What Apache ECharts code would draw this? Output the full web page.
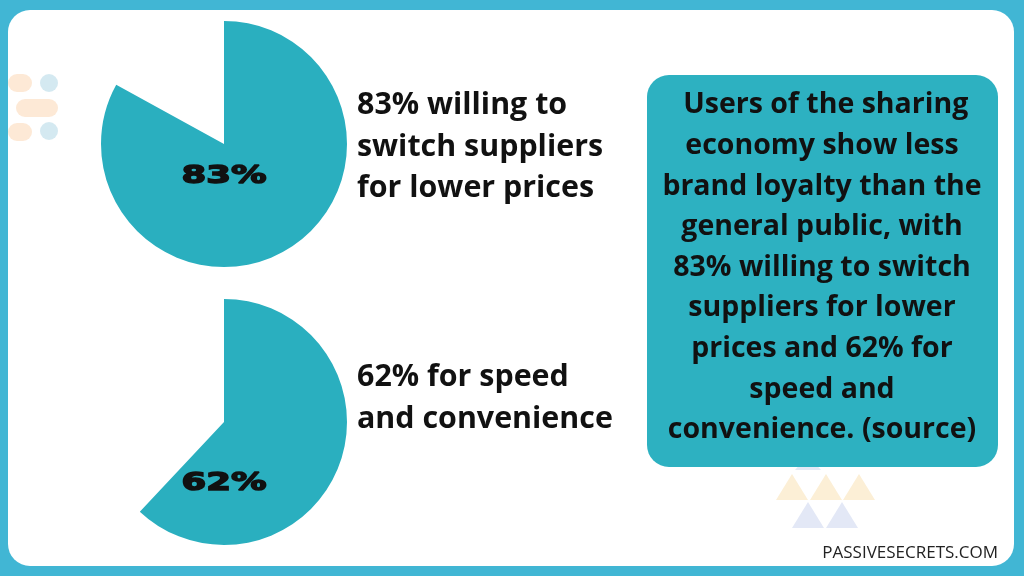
<!DOCTYPE html>
<html><head><meta charset="utf-8">
<script src="https://cdn.jsdelivr.net/npm/echarts@6/dist/echarts.min.js"></script>
<style>html,body{margin:0;padding:0;background:#41b6d4}#c{width:1024px;height:576px}</style>
</head><body><div id="c"></div>
<script>
const categories = ['Lower prices', 'Speed and convenience'];
const values = [83, 62];
const sideLabels = ['83% willing to\nswitch suppliers\nfor lower prices', '62% for speed\nand convenience'];
const boxText = ' Users of the sharing\neconomy show less\nbrand loyalty than the\ngeneral public, with\n83% willing to switch\nsuppliers for lower\nprices and 62% for\nspeed and\nconvenience. (source)';
const source = 'PASSIVESECRETS.COM';

const TEAL = '#2aafbf';
const centers = [[224, 144], [224, 422]];
const labelY = [177, 484];
const sideY = [85, 357];

const chart = echarts.init(document.getElementById('c'), null, {renderer: 'canvas'});

const series = values.map((v, i) => ({
  type: 'pie', name: categories[i], center: centers[i], radius: [0, 123],
  startAngle: 90, clockwise: true, silent: true, animation: false,
  label: {show: false}, labelLine: {show: false},
  z: 5,
  data: [
    {name: categories[i], value: v, itemStyle: {color: TEAL}},
    {name: 'rest', value: 100 - v, itemStyle: {color: 'rgba(0,0,0,0)'}}
  ]
}));

const graphics = [
  {type: 'rect', shape: {x: 8, y: 10, width: 1006, height: 556, r: 22}, style: {fill: '#ffffff'}, z: -10},
  // faint decorations
  {type: 'rect', shape: {x: 8, y: 74, width: 24, height: 18, r: 9}, style: {fill: '#fde3cc', opacity: 0.8}, z: -5},
  {type: 'circle', shape: {cx: 49, cy: 83, r: 9}, style: {fill: '#cfe7ef', opacity: 0.9}, z: -5},
  {type: 'rect', shape: {x: 16, y: 99, width: 42, height: 18, r: 9}, style: {fill: '#fde3cc', opacity: 0.8}, z: -5},
  {type: 'rect', shape: {x: 8, y: 123, width: 24, height: 18, r: 9}, style: {fill: '#fde3cc', opacity: 0.8}, z: -5},
  {type: 'circle', shape: {cx: 49, cy: 131, r: 9}, style: {fill: '#cfe7ef', opacity: 0.9}, z: -5},
  {type: 'polygon', shape: {points: [[776, 500], [792, 474], [808, 500]]}, style: {fill: '#fcefd6'}, z: -5},
  {type: 'polygon', shape: {points: [[810, 500], [826, 474], [842, 500]]}, style: {fill: '#fcefd6'}, z: -5},
  {type: 'polygon', shape: {points: [[843, 500], [859, 474], [875, 500]]}, style: {fill: '#fcefd6'}, z: -5},
  {type: 'polygon', shape: {points: [[792, 528], [808, 502], [824, 528]]}, style: {fill: '#e3e8f6'}, z: -5},
  {type: 'polygon', shape: {points: [[826, 528], [842, 502], [858, 528]]}, style: {fill: '#e3e8f6'}, z: -5},
  {type: 'polygon', shape: {points: [[795, 470], [808, 455], [821, 470]]}, style: {fill: '#e3eaf6'}, z: -5},
  // text box
  {type: 'rect', shape: {x: 647, y: 75, width: 351, height: 392, r: 22}, style: {fill: '#2db1c1'}, z: 1},
  {type: 'text', x: 822, y: 85, z: 2, style: {text: boxText, font: 'bold 28.5px "Open Sans"', fill: '#111', align: 'center', verticalAlign: 'top', lineHeight: 40.6}},
  {type: 'text', x: 998, y: 545, z: 2, style: {text: source, font: '17px "Open Sans"', fill: '#222', align: 'right', verticalAlign: 'top'}}
];

values.forEach((v, i) => {
  graphics.push({type: 'text', x: 357, y: sideY[i], z: 2,
    style: {text: sideLabels[i], font: 'bold 30.4px "Open Sans"', fill: '#111', align: 'left', verticalAlign: 'top', lineHeight: 41.5}});
  graphics.push({type: 'text', x: 224, y: labelY[i], z: 10, scaleX: 1.48, originX: 0, originY: 0,
    style: {text: v + '%', font: 'bold 24px "DejaVu Sans"', fill: '#111', stroke: '#111', lineWidth: 1.4, align: 'center', verticalAlign: 'middle'}});
});

chart.setOption({
  backgroundColor: '#41b6d4',
  animation: false,
  series: series,
  graphic: {elements: graphics}
});
</script></body></html>
